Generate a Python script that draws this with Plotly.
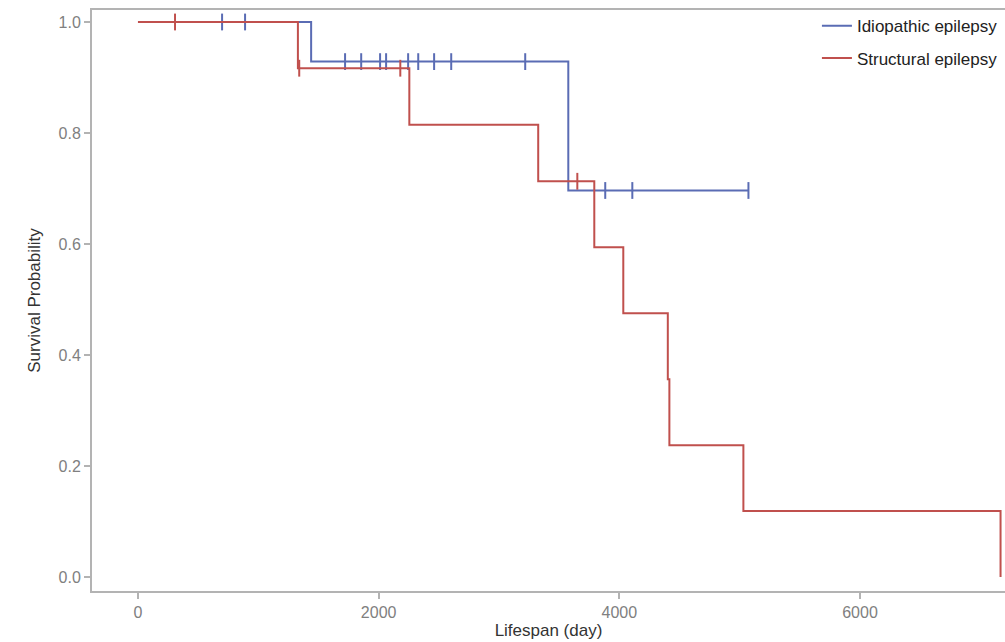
import plotly.graph_objects as go
import numpy as np

# Kaplan-Meier step data (days, survival probability)
idio_times = [0, 1439, 3576, 5073]
idio_surv = [1.0, 0.9286, 0.6964, 0.6964]
idio_censor = [699, 890, 1721, 1855, 2012, 2062, 2245, 2329, 2461, 2603, 3218, 3883, 4108, 5073]

struct_times = [0, 1329, 2255, 3326, 3792, 4033, 4403, 4416, 5031, 7168]
struct_surv = [1.0, 0.9167, 0.8148, 0.7130, 0.5941, 0.4753, 0.3565, 0.2376, 0.1188, 0.0]
struct_censor = [308, 1340, 2180, 3651]

x_ticks = [0, 2000, 4000, 6000]
y_ticks = [0.0, 0.2, 0.4, 0.6, 0.8, 1.0]

BLUE = "#5a6cb4"
RED = "#c0504d"


def surv_at(times, surv, t):
    idx = np.searchsorted(times, t, side="right") - 1
    return surv[max(idx, 0)]


fig = go.Figure()
for name, times, surv, cens, col in [
    ("Idiopathic epilepsy", idio_times, idio_surv, idio_censor, BLUE),
    ("Structural epilepsy", struct_times, struct_surv, struct_censor, RED),
]:
    fig.add_trace(go.Scatter(x=times, y=surv, mode="lines", line=dict(shape="hv", color=col, width=2),
                             name=name, legendgroup=name, showlegend=True, cliponaxis=False))
    fig.add_trace(go.Scatter(x=cens, y=[surv_at(times, surv, c) for c in cens], mode="markers",
                             marker=dict(symbol="line-ns", size=12, line=dict(color=col, width=2)),
                             legendgroup=name, showlegend=False, hoverinfo="skip"))

axis_common = dict(showgrid=False, zeroline=False, showline=True, linecolor="#b3b3b3", linewidth=2,
                   ticks="outside", ticklen=6, tickwidth=1.5, tickcolor="#b3b3b3",
                   tickfont=dict(family="Liberation Sans, Arial", size=16, color="#808080"),
                   title_font=dict(family="Liberation Sans, Arial", size=17, color="#333333"))

fig.update_layout(
    width=1005, height=642,
    margin=dict(l=92, r=0, t=10, b=51),
    paper_bgcolor="white", plot_bgcolor="white",
    xaxis=dict(range=[-382, 7205], tickvals=x_ticks, ticktext=[str(v) for v in x_ticks],
               title=dict(text="Lifespan (day)", standoff=2), mirror=True, **axis_common),
    yaxis=dict(range=[-0.0252, 1.0216], tickvals=y_ticks, ticktext=[f"{v:.1f}" for v in y_ticks],
               title=dict(text="Survival Probability", standoff=14), **axis_common),
    legend=dict(x=0.794, y=1.003, xanchor="left", yanchor="top", bgcolor="rgba(0,0,0,0)",
                font=dict(family="Liberation Sans, Arial", size=17, color="#222222"), tracegroupgap=7),
)

fig.write_html("out.html", config={"displayModeBar": False},
               post_script="document.body.style.margin='0';document.body.style.overflow='hidden';")
